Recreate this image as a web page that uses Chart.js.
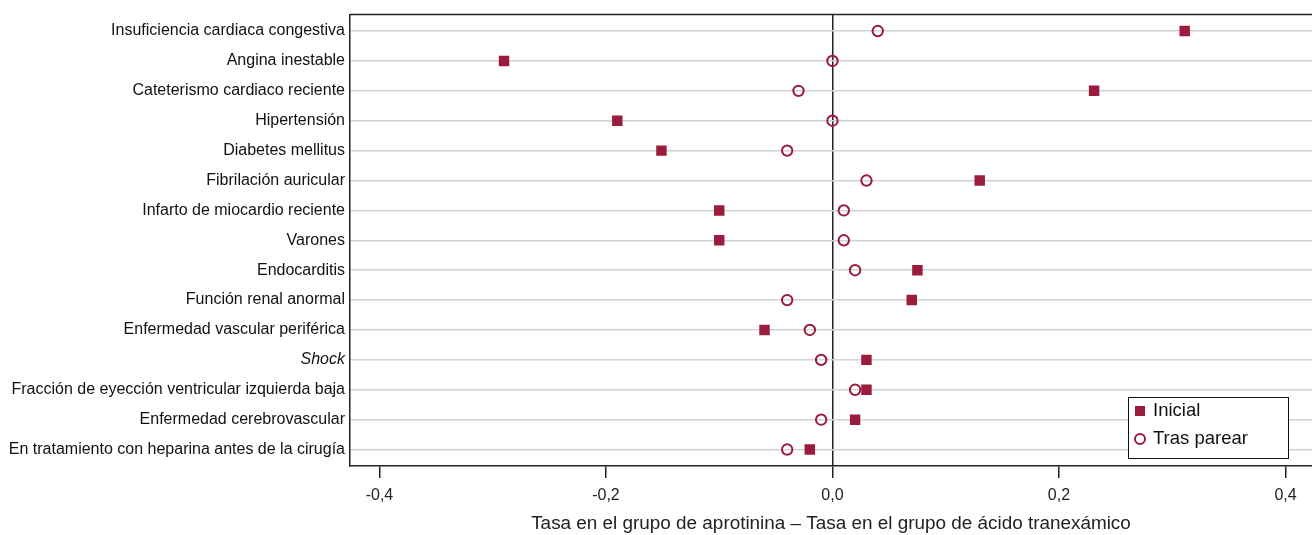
<!DOCTYPE html>
<html>
<head>
<meta charset="utf-8">
<script src="https://cdn.jsdelivr.net/npm/chart.js@4.4.0/dist/chart.umd.min.js"></script>
<style>
  html, body { margin: 0; padding: 0; background: #fff; overflow: hidden; }
  #wrap { width: 1312px; height: 535px; position: relative; }
  #chart { display: block; }
</style>
</head>
<body>
<div id="wrap"><canvas id="chart"></canvas></div>
<script>
const categories = [
  'Insuficiencia cardiaca congestiva',
  'Angina inestable',
  'Cateterismo cardiaco reciente',
  'Hipertensión',
  'Diabetes mellitus',
  'Fibrilación auricular',
  'Infarto de miocardio reciente',
  'Varones',
  'Endocarditis',
  'Función renal anormal',
  'Enfermedad vascular periférica',
  'Shock',
  'Fracción de eyección ventricular izquierda baja',
  'Enfermedad cerebrovascular',
  'En tratamiento con heparina antes de la cirugía'
];
const inicial = [0.311, -0.290, 0.231, -0.190, -0.151, 0.130, -0.100, -0.100, 0.075, 0.070, -0.060, 0.030, 0.030, 0.020, -0.020];
const trasParear = [0.040, 0.000, -0.030, 0.000, -0.040, 0.030, 0.010, 0.010, 0.020, -0.040, -0.020, -0.010, 0.020, -0.010, -0.040];
const xTicks = [-0.4, -0.2, 0, 0.2, 0.4];
const seriesNames = ['Inicial', 'Tras parear'];

const red = '#9b1c3c';
const font = 'Arial, "Liberation Sans", sans-serif';

// y = row index, labels come from categories
const toPoints = vals => vals.map((v, i) => ({ x: v, y: i }));

// top border + legend box inside the plot
const framePlugin = {
  id: 'frame',
  afterDraw(chart) {
    const { ctx, chartArea } = chart;
    ctx.save();
    ctx.strokeStyle = '#222';
    ctx.lineWidth = 1.5;
    ctx.beginPath();
    ctx.moveTo(chartArea.left, chartArea.top);
    ctx.lineTo(chartArea.right, chartArea.top);
    ctx.stroke();

    const bx = 1128, by = 397, bw = 160, bh = 61;
    ctx.fillStyle = '#fff';
    ctx.fillRect(bx, by, bw, bh);
    ctx.strokeStyle = '#111';
    ctx.lineWidth = 1;
    ctx.strokeRect(bx + 0.5, by + 0.5, bw, bh);

    ctx.fillStyle = red;
    ctx.fillRect(1135, 406, 10, 10);
    ctx.strokeStyle = red;
    ctx.lineWidth = 2;
    ctx.beginPath();
    ctx.arc(1140, 439, 5, 0, Math.PI * 2);
    ctx.stroke();

    ctx.fillStyle = '#111';
    ctx.font = '18.5px ' + font;
    ctx.textBaseline = 'middle';
    ctx.fillText(seriesNames[0], 1153, 411);
    ctx.fillText(seriesNames[1], 1153, 439);
    ctx.restore();
  }
};

new Chart(document.getElementById('chart'), {
  type: 'scatter',
  data: {
    datasets: [
      {
        label: seriesNames[0],
        data: toPoints(inicial),
        pointStyle: 'rect',
        pointRadius: 7.4,
        pointHoverRadius: 7.4,
        backgroundColor: red,
        borderColor: red,
        borderWidth: 0
      },
      {
        label: seriesNames[1],
        data: toPoints(trasParear),
        pointStyle: 'circle',
        pointRadius: 5.2,
        pointHoverRadius: 5.2,
        backgroundColor: 'rgba(255,255,255,0)',
        borderColor: red,
        borderWidth: 2
      }
    ]
  },
  options: {
    responsive: true,
    maintainAspectRatio: false,
    animation: false,
    layout: { autoPadding: false, padding: { top: 14, right: 0, left: 0, bottom: 0 } },
    plugins: {
      legend: { display: false },
      tooltip: { enabled: false }
    },
    scales: {
      x: {
        type: 'linear',
        min: -0.426,
        max: 0.4234,
        afterBuildTicks: axis => { axis.ticks = xTicks.map(v => ({ value: v })); },
        afterFit: axis => { axis.height = 69; },
        grid: {
          drawOnChartArea: true,
          color: c => (c.tick && c.tick.value === 0 ? '#222' : 'rgba(0,0,0,0)'),
          lineWidth: 1.5,
          drawTicks: true,
          tickLength: 12,
          tickColor: '#222',
          tickWidth: 1.5
        },
        border: { display: true, color: '#222', width: 1.5 },
        ticks: {
          padding: 8,
          color: '#222',
          font: { family: font, size: 16 },
          callback: v => v.toFixed(1).replace('.', ',')
        },
        title: {
          display: true,
          text: 'Tasa en el grupo de aprotinina – Tasa en el grupo de ácido tranexámico',
          color: '#222',
          font: { family: font, size: 18.9 },
          padding: { top: 2, bottom: 0 }
        }
      },
      y: {
        type: 'linear',
        reverse: true,
        min: -0.55,
        max: categories.length - 0.45,
        afterBuildTicks: axis => { axis.ticks = categories.map((c, i) => ({ value: i })); },
        afterFit: axis => { axis.width = 350; },
        grid: {
          color: '#d2d2d2',
          lineWidth: 1.5,
          drawTicks: false
        },
        border: { display: true, color: '#222', width: 1.5 },
        ticks: {
          padding: 5,
          color: '#111',
          callback: v => categories[v],
          font: c => ({
            family: font,
            size: 16,
            style: categories[c.index] === 'Shock' ? 'italic' : 'normal'
          })
        }
      }
    }
  },
  plugins: [framePlugin]
});
</script>
</body>
</html>
